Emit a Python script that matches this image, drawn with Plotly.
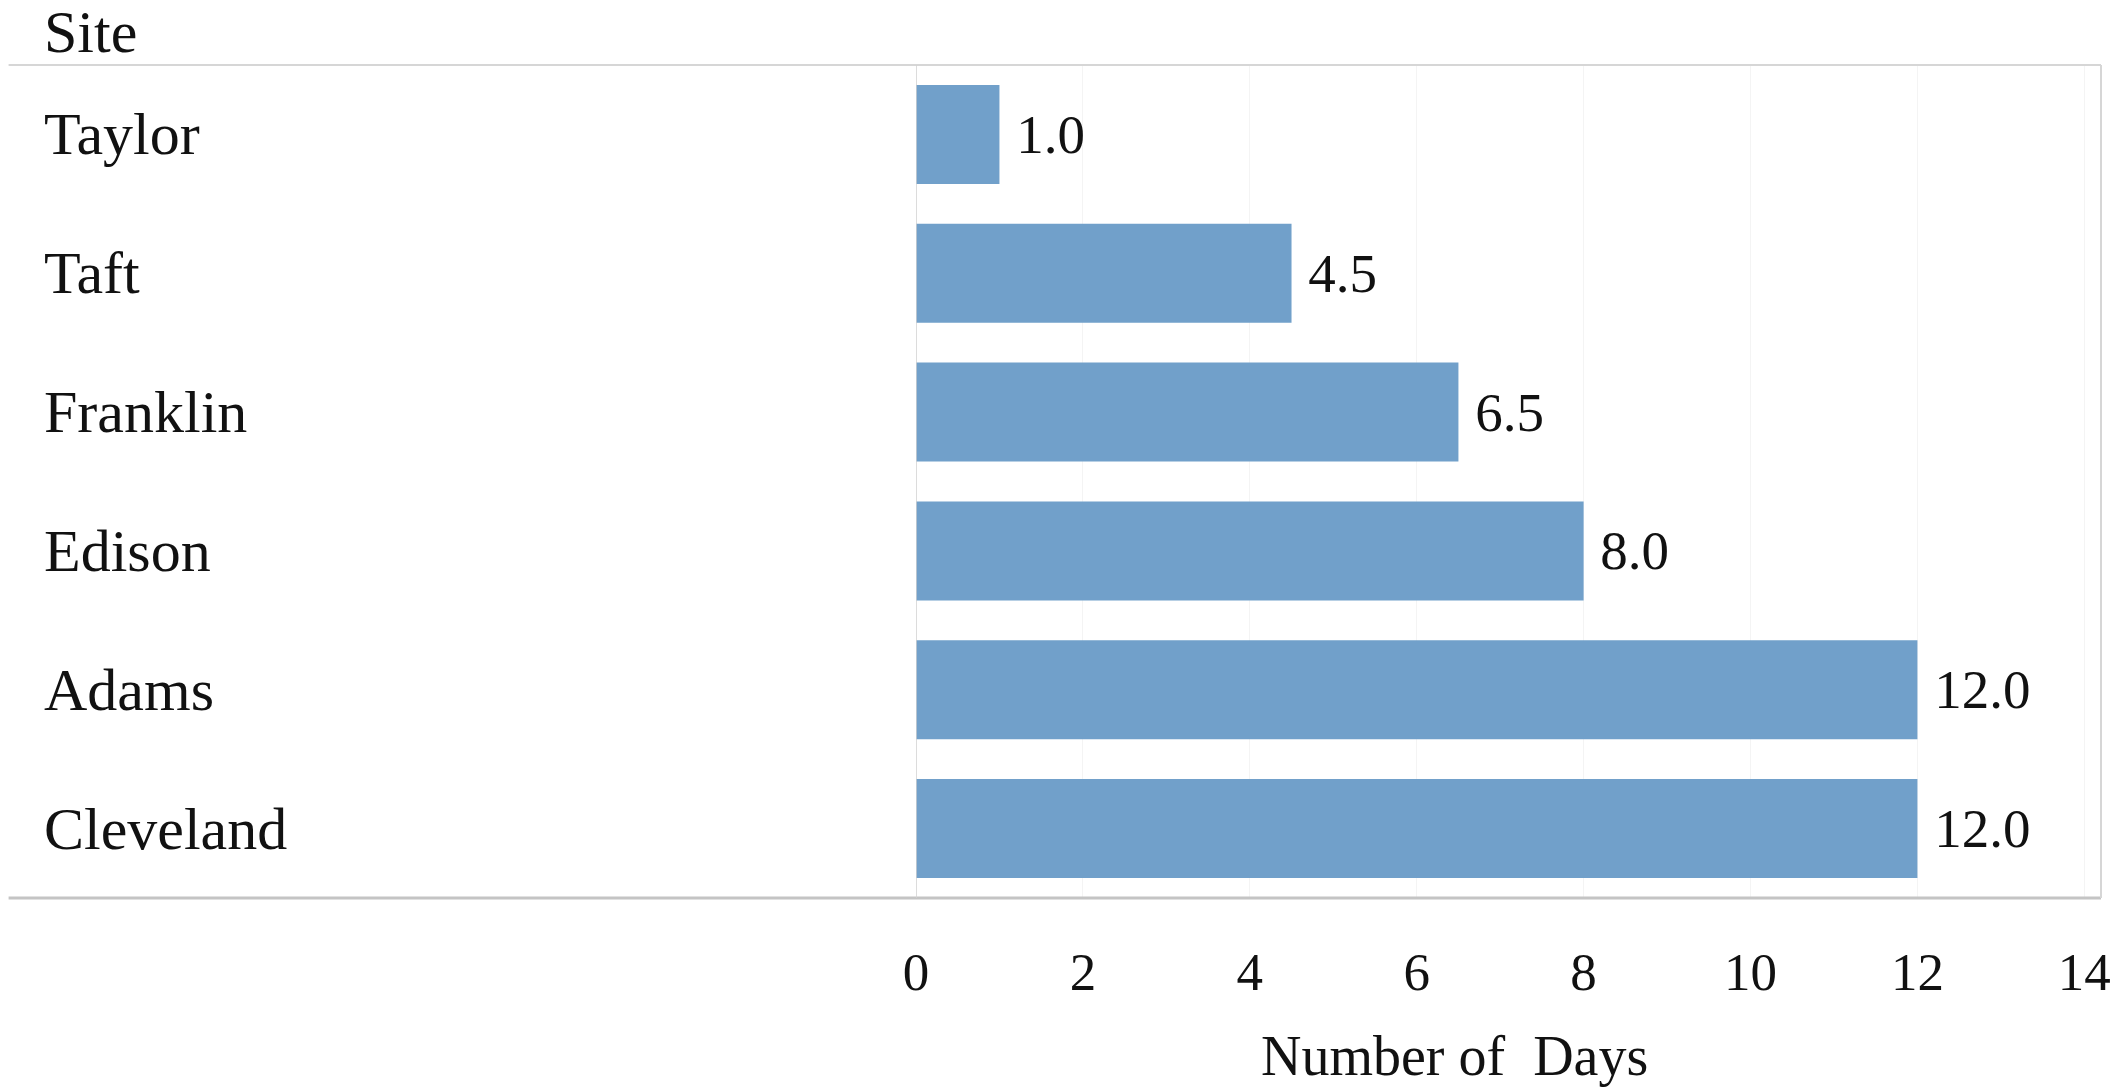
import plotly.graph_objects as go

# Days per site, listed top to bottom
sites = ["Taylor", "Taft", "Franklin", "Edison", "Adams", "Cleveland"]
days = [1.0, 4.5, 6.5, 8.0, 12.0, 12.0]
x_ticks = [0, 2, 4, 6, 8, 10, 12, 14]
x_tick_text = ["0", "2", "4", "6", "8", "10", "12", "14"]

W, H = 2123, 1087
L, R, T, B = 916, 16, 65, 189
plot_w = W - L - R
plot_h = H - T - B

SERIF = "Liberation Serif, Times New Roman, serif"
BAR = "#71a0ca"

fig = go.Figure()
fig.add_trace(go.Bar(
    y=sites,
    x=days,
    orientation="h",
    marker=dict(color=BAR, line=dict(width=0)),
    texttemplate=" %{x:.1f}",
    textposition="outside",
    textfont=dict(family=SERIF, size=55, color="#111111"),
    cliponaxis=False,
    hoverinfo="skip",
))

def px_x(px):
    return (px - L) / plot_w

def px_y(py):
    return 1 - (py - T) / plot_h

annotations = []
# Row labels at the left edge
for s in sites:
    annotations.append(dict(
        x=px_x(38), xref="paper", xanchor="left",
        y=s, yref="y", yanchor="middle",
        text=s, showarrow=False,
        font=dict(family=SERIF, size=60, color="#111111"),
    ))
# Column header
annotations.append(dict(
    x=px_x(38), xref="paper", xanchor="left",
    y=px_y(32), yref="paper", yanchor="middle",
    text="Site", showarrow=False,
    font=dict(family=SERIF, size=60, color="#111111"),
))
# Axis title
annotations.append(dict(
    x=px_x(1457), xref="paper", xanchor="center",
    y=px_y(1056), yref="paper", yanchor="middle",
    text="Number of  Days", showarrow=False,
    font=dict(family=SERIF, size=56, color="#111111"),
))

shapes = [
    # header rule
    dict(type="line", xref="paper", yref="paper",
         x0=px_x(4), x1=1, y0=1, y1=1,
         line=dict(color="#d6d6d6", width=2)),
    # bottom rule
    dict(type="line", xref="paper", yref="paper",
         x0=px_x(4), x1=1, y0=0, y1=0,
         line=dict(color="#c4c4c4", width=3)),
    # right frame
    dict(type="line", xref="paper", yref="paper",
         x0=1, x1=1, y0=0, y1=1,
         line=dict(color="#d6d6d6", width=2)),
    # zero line
    dict(type="line", xref="x", yref="paper",
         x0=0, x1=0, y0=0, y1=1,
         line=dict(color="#d0d0d0", width=1.5)),
]

fig.update_layout(
    width=W, height=H,
    margin=dict(l=L, r=R, t=T, b=B, pad=0),
    paper_bgcolor="white",
    plot_bgcolor="white",
    bargap=0.287,
    showlegend=False,
    annotations=annotations,
    shapes=shapes,
    xaxis=dict(
        range=[0, 14.2],
        tickvals=x_ticks,
        ticktext=x_tick_text,
        tickfont=dict(family=SERIF, size=53, color="#111111"),
        showgrid=True,
        gridcolor="#f4f4f4",
        gridwidth=1,
        zeroline=False,
        showline=False,
        ticks="",
        ticklabelstandoff=38,
        fixedrange=True,
    ),
    yaxis=dict(
        categoryorder="array",
        categoryarray=sites,
        autorange="reversed",
        showticklabels=False,
        showgrid=False,
        zeroline=False,
        showline=False,
        ticks="",
        fixedrange=True,
    ),
)

fig.write_html("out.html")
